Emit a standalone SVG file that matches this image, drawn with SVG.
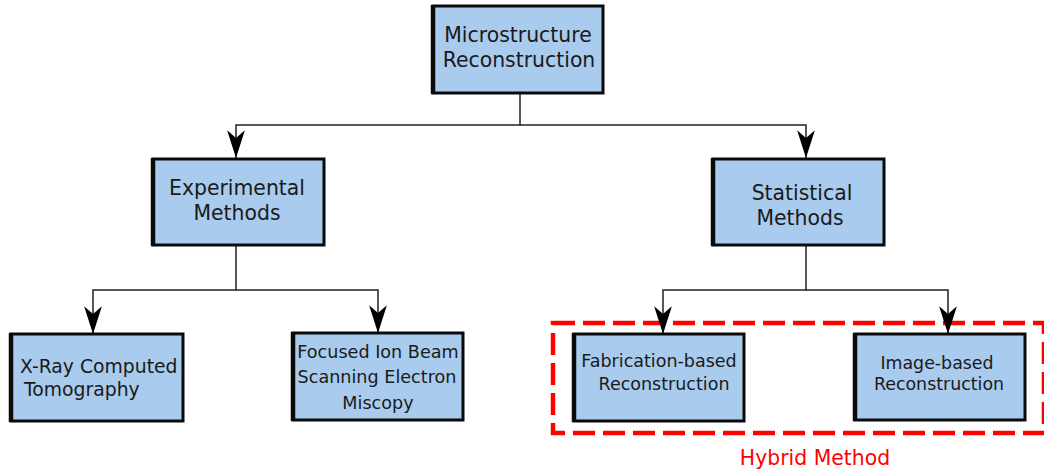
<svg xmlns="http://www.w3.org/2000/svg" width="1044" height="473" viewBox="0 0 1044 473">
  <style>
    .box { fill: #a9cbee; stroke: #0a0a0a; stroke-width: 3; }
    .edge { fill: none; stroke: #0a0a0a; stroke-width: 4.5; }
    .lbl { font-family: "DejaVu Sans", Verdana, sans-serif; fill: #1a1a1a; text-anchor: middle; }
    .conn { fill: none; stroke: #222; stroke-width: 1.5; marker-end: url(#arrow); }
    .hybrid { fill: none; stroke: #f00; stroke-width: 4.5; stroke-dasharray: 22 8; }
  </style>
  <defs>
    <marker id="arrow" markerUnits="userSpaceOnUse" markerWidth="30" markerHeight="20" viewBox="-26 -9 27 18" refX="0" refY="0" orient="auto">
      <path d="M0,0 L-25,-8 L-18,0 L-25,8 Z" fill="#000"/>
    </marker>
  </defs>

  <rect width="1044" height="473" fill="#fff"/>

  <!-- hybrid grouping frame -->
  <g id="hybrid-frame">
    <rect class="hybrid" x="553" y="323" width="491" height="110"/>
    <text x="815" y="465" font-family="DejaVu Sans, Verdana, sans-serif" font-size="20.4" fill="#f00" text-anchor="middle">Hybrid Method</text>
  </g>

  <!-- connectors -->
  <g id="connectors">
    <path class="conn" d="M520,93 V125 H236 V158"/>
    <path class="conn" d="M520,125 H806 V158"/>
    <path class="conn" d="M236,245 V290 H93 V334"/>
    <path class="conn" d="M236,290 H378 V333"/>
    <path class="conn" d="M806,245 V290 H663 V334"/>
    <path class="conn" d="M806,290 H948 V334"/>
  </g>

  <g id="root">
    <rect class="box" x="433" y="6" width="170" height="87"/>
    <line class="edge" x1="433" y1="5" x2="433" y2="94"/>
    <text class="lbl" font-size="20.4"><tspan x="518" y="42">Microstructure</tspan><tspan x="519" y="67">Reconstruction</tspan></text>
  </g>

  <g id="experimental">
    <rect class="box" x="153" y="159" width="171" height="86"/>
    <line class="edge" x1="153" y1="158" x2="153" y2="246"/>
    <text class="lbl" font-size="20.4"><tspan x="237" y="195">Experimental</tspan><tspan x="237" y="220">Methods</tspan></text>
  </g>

  <g id="statistical">
    <rect class="box" x="713" y="159" width="171" height="86"/>
    <line class="edge" x1="713" y1="158" x2="713" y2="246"/>
    <text class="lbl" font-size="20.4"><tspan x="802" y="200">Statistical</tspan><tspan x="800" y="225">Methods</tspan></text>
  </g>

  <g id="xray">
    <rect class="box" x="11" y="334" width="172" height="87"/>
    <line class="edge" x1="11" y1="333" x2="11" y2="422"/>
    <text class="lbl" font-size="18.8" style="text-anchor:start"><tspan x="20" y="373">X-Ray Computed</tspan><tspan x="24" y="396">Tomography</tspan></text>
  </g>

  <g id="fib-sem">
    <rect class="box" x="293" y="333" width="170" height="87"/>
    <line class="edge" x1="293" y1="332" x2="293" y2="421"/>
    <text class="lbl" font-size="17.6"><tspan x="378" y="358">Focused Ion Beam</tspan><tspan x="377" y="383">Scanning Electron</tspan><tspan x="378" y="409">Miscopy</tspan></text>
  </g>

  <g id="fabrication">
    <rect class="box" x="574" y="334" width="170" height="87"/>
    <line class="edge" x1="574" y1="333" x2="574" y2="422"/>
    <text class="lbl" font-size="17.5"><tspan x="659" y="367">Fabrication-based</tspan><tspan x="664" y="390">Reconstruction</tspan></text>
  </g>

  <g id="image-based">
    <rect class="box" x="855" y="334" width="170" height="86"/>
    <line class="edge" x1="855" y1="333" x2="855" y2="421"/>
    <text class="lbl" font-size="17.4"><tspan x="937" y="369">Image-based</tspan><tspan x="939" y="390">Reconstruction</tspan></text>
  </g>
</svg>
